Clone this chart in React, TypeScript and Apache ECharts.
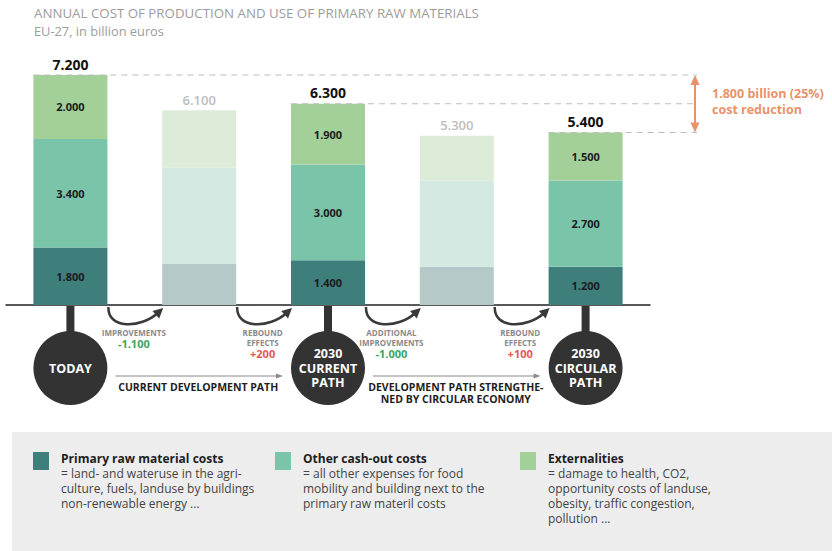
import React, { useEffect, useRef } from 'react';
import * as echarts from 'echarts';

const categories = ['TODAY', 'AFTER IMPROVEMENTS', '2030 CURRENT PATH', 'AFTER ADDITIONAL IMPROVEMENTS', '2030 CIRCULAR PATH'];
const rawMaterialCosts = [1800, 1300, 1400, 1200, 1200];
const otherCashOutCosts = [3400, 3000, 3000, 2700, 2700];
const externalities = [2000, 1800, 1900, 1400, 1500];
const totals = [7200, 6100, 6300, 5300, 5400];
const isIntermediate = [false, true, false, true, false];

const stepLabels = [['IMPROVEMENTS'], ['REBOUND', 'EFFECTS'], ['ADDITIONAL', 'IMPROVEMENTS'], ['REBOUND', 'EFFECTS']];
const stepValues = ['-1.100', '+200', '-1.000', '+100'];
const stageIndices = [0, 2, 4];
const stageLabels = ['TODAY', '2030\nCURRENT\nPATH', '2030\nCIRCULAR\nPATH'];
const pathLabels = ['CURRENT DEVELOPMENT PATH', 'DEVELOPMENT PATH STRENGTHE-\nNED BY CIRCULAR ECONOMY'];
const reductionLabel = '1.800 billion (25%)\ncost reduction';

const titleText = 'ANNUAL COST OF PRODUCTION AND USE OF PRIMARY RAW MATERIALS';
const subtitleText = 'EU-27, in billion euros';

const legendTitles = ['Primary raw material costs', 'Other cash-out costs', 'Externalities'];
const legendTexts = [
  '= land- and wateruse in the agri-\nculture, fuels, landuse by buildings\nnon-renewable energy ...',
  '= all other expenses for food\nmobility and building next to the\nprimary raw materil costs',
  '= damage to health, CO2,\nopportunity costs of landuse,\nobesity, traffic congestion,\npollution ...',
];

const FONT = '"Open Sans", "Noto Sans", sans-serif';
const solidColors = ['#3f7f7b', '#7ac4aa', '#a3cf98'];
const paleColors = ['#b5c9c9', '#d3e9e2', '#ddecd9'];

const fmt = (v: number) => (v / 1000).toFixed(3);

export default function App() {
  const ref = useRef<HTMLDivElement>(null);
  useEffect(() => {
    if (!ref.current) return;
    const chart = echarts.init(ref.current, null, { renderer: 'svg' });
    const mk = (name: string, data: number[], k: number) => ({
      type: 'bar',
      name,
      stack: 'cost',
      barWidth: 74,
      data: data.map((v, i) => ({
        value: v,
        itemStyle: { color: isIntermediate[i] ? paleColors[k] : solidColors[k] },
        label: { show: !isIntermediate[i] },
      })),
      label: {
        show: true,
        position: 'inside',
        formatter: (p: any) => fmt(p.value),
        fontSize: 11,
        fontWeight: 'bold',
        color: '#1b1b1b',
        fontFamily: FONT,
      },
    });
    chart.setOption({
      animation: false,
      backgroundColor: '#ffffff',
      grid: { left: 6, top: 75, width: 644, height: 230 },
      xAxis: {
        type: 'category',
        data: categories,
        axisLine: { show: true, lineStyle: { color: '#222', width: 1.5 } },
        axisTick: { show: false },
        axisLabel: { show: false },
      },
      yAxis: { type: 'value', min: 0, max: 7200, show: false, splitLine: { show: false } },
      series: [
        mk('Primary raw material costs', rawMaterialCosts, 0),
        mk('Other cash-out costs', otherCashOutCosts, 1),
        mk('Externalities', externalities, 2),
        {
          type: 'bar',
          name: 'Total',
          stack: 'cost',
          barWidth: 74,
          data: totals.map((t, i) => ({
            value: 0,
            label: {
              color: isIntermediate[i] ? '#bdbdbd' : '#111',
              fontSize: isIntermediate[i] ? 13 : 14,
              fontWeight: isIntermediate[i] ? 600 : 'bold',
            },
          })),
          label: {
            show: true,
            position: 'top',
            distance: 4,
            fontFamily: FONT,
            formatter: (p: any) => fmt(totals[p.dataIndex]),
          },
        },
      ],
    });

    const px = (i: number, v: number) => chart.convertToPixel({ gridIndex: 0 }, [i, v]) as number[];
    const base = px(0, 0)[1];
    const xc = categories.map((_, i) => px(i, 0)[0]);
    const half = 37;
    const g: any[] = [];

    // title
    g.push({ type: 'text', x: 34, y: 13, style: { text: titleText, fill: '#9c9c9c', fontSize: 13.3, fontFamily: FONT, verticalAlign: 'middle' } });
    g.push({ type: 'text', x: 34, y: 31, style: { text: subtitleText, fill: '#9c9c9c', fontSize: 12.8, fontFamily: FONT, verticalAlign: 'middle' } });

    // dashed reference lines
    const arrowX = 695;
    stageIndices.forEach((i) => {
      const y = px(i, totals[i])[1];
      g.push({ type: 'line', shape: { x1: xc[i] - half, y1: y, x2: arrowX + 2, y2: y }, style: { stroke: '#bdbdbd', lineWidth: 1.2, lineDash: [6, 5] }, z: 10 });
    });
    const yTop = px(0, totals[0])[1];
    const yBot = px(4, totals[4])[1];
    const orange = '#e9926a';
    g.push({ type: 'line', shape: { x1: arrowX, y1: yTop + 6, x2: arrowX, y2: yBot - 6 }, style: { stroke: orange, lineWidth: 2 } });
    g.push({ type: 'polygon', shape: { points: [[arrowX, yTop], [arrowX - 4.5, yTop + 10], [arrowX + 4.5, yTop + 10]] }, style: { fill: orange } });
    g.push({ type: 'polygon', shape: { points: [[arrowX, yBot], [arrowX - 4.5, yBot - 10], [arrowX + 4.5, yBot - 10]] }, style: { fill: orange } });
    g.push({ type: 'text', x: 712, y: (yTop + yBot) / 2 - 2, style: { text: reductionLabel, fill: orange, fontSize: 12.5, fontWeight: 'bold', fontFamily: FONT, lineHeight: 16, verticalAlign: 'middle' } });

    // curved step arrows and labels
    const dark = '#3a3a3a';
    for (let s = 0; s < 4; s++) {
      const sx = xc[s] + half + 1;
      const tipX = xc[s + 1] - half + 1;
      const tipY = base + 3;
      const c2 = [sx + 32, base + 24];
      let dx = tipX - c2[0], dy = tipY - c2[1];
      const len = Math.hypot(dx, dy);
      dx /= len; dy /= len;
      const endX = tipX - dx * 7, endY = tipY - dy * 7;
      g.push({ type: 'bezierCurve', shape: { x1: sx, y1: base + 2, cpx1: sx - 1, cpy1: base + 24, cpx2: c2[0], cpy2: c2[1], x2: endX, y2: endY }, style: { stroke: dark, lineWidth: 2.5, fill: null } });
      const nx = -dy, ny = dx;
      g.push({ type: 'polygon', shape: { points: [[tipX, tipY], [tipX - dx * 10 + nx * 5, tipY - dy * 10 + ny * 5], [tipX - dx * 10 - nx * 5, tipY - dy * 10 - ny * 5]] }, style: { fill: dark } });
      const cx = (xc[s] + xc[s + 1]) / 2 - 1;
      const lines = stepLabels[s];
      const ly = base + 23;
      g.push({ type: 'text', x: cx, y: ly, style: { text: lines.join('\n'), fill: '#8a8a8a', fontSize: 8, fontWeight: 'bold', fontFamily: FONT, lineHeight: 9.5, align: 'center', verticalAlign: 'top' } });
      const vy = ly + lines.length * 9.5 + 6;
      g.push({ type: 'text', x: cx, y: vy, style: { text: stepValues[s], fill: stepValues[s].startsWith('-') ? '#3aa564' : '#e05a55', fontSize: 11, fontWeight: 'bold', fontFamily: FONT, align: 'center', verticalAlign: 'middle' } });
    }

    // stems and circles
    const cy = base + 63;
    const r = 37;
    stageIndices.forEach((i, k) => {
      g.push({ type: 'rect', shape: { x: xc[i] - 4, y: base + 1, width: 8, height: cy - base - r + 4 }, style: { fill: '#333' } });
      g.push({ type: 'circle', shape: { cx: xc[i], cy, r }, style: { fill: '#333' } });
      g.push({ type: 'text', x: xc[i], y: cy, style: { text: stageLabels[k], fill: '#ffffff', fontSize: 12.5, fontWeight: 'bold', fontFamily: FONT, lineHeight: 14.5, align: 'center', verticalAlign: 'middle' } });
    });

    // development path arrows
    const pathY = base + 71;
    [[0, 2], [2, 4]].forEach(([a, b], k) => {
      const x1 = xc[a] + 45, x2 = xc[b] - 45;
      g.push({ type: 'line', shape: { x1, y1: pathY, x2: x2 - 5, y2: pathY }, style: { stroke: '#8a8a8a', lineWidth: 1 } });
      g.push({ type: 'polygon', shape: { points: [[x2, pathY], [x2 - 7, pathY - 2.5], [x2 - 7, pathY + 2.5]] }, style: { fill: '#8a8a8a' } });
      g.push({ type: 'text', x: (xc[a] + xc[b]) / 2 - 1, y: pathY + 5, style: { text: pathLabels[k], fill: '#1e1e1e', fontSize: 10.5, fontWeight: 'bold', fontFamily: FONT, lineHeight: 12, align: 'center', verticalAlign: 'top' } });
    });

    // legend box
    g.push({ type: 'rect', shape: { x: 12, y: 432, width: 820, height: 119 }, style: { fill: '#ededed' }, z: -1 });
    const legendX = [33, 275, 520];
    legendTitles.forEach((t, k) => {
      g.push({ type: 'rect', shape: { x: legendX[k], y: 452, width: 16, height: 18 }, style: { fill: solidColors[k] } });
      g.push({ type: 'text', x: legendX[k] + 28, y: 458, style: { text: t, fill: '#1e1e1e', fontSize: 12, fontWeight: 'bold', fontFamily: FONT, verticalAlign: 'middle' } });
      g.push({ type: 'text', x: legendX[k] + 28, y: 466, style: { text: legendTexts[k], fill: '#444', fontSize: 12, fontFamily: FONT, lineHeight: 15, verticalAlign: 'top' } });
    });

    chart.setOption({ graphic: { elements: g } });
    return () => chart.dispose();
  }, []);
  return <div ref={ref} style={{ position: 'fixed', left: 0, top: 0, width: 832, height: 551, background: '#fff' }} />;
}
